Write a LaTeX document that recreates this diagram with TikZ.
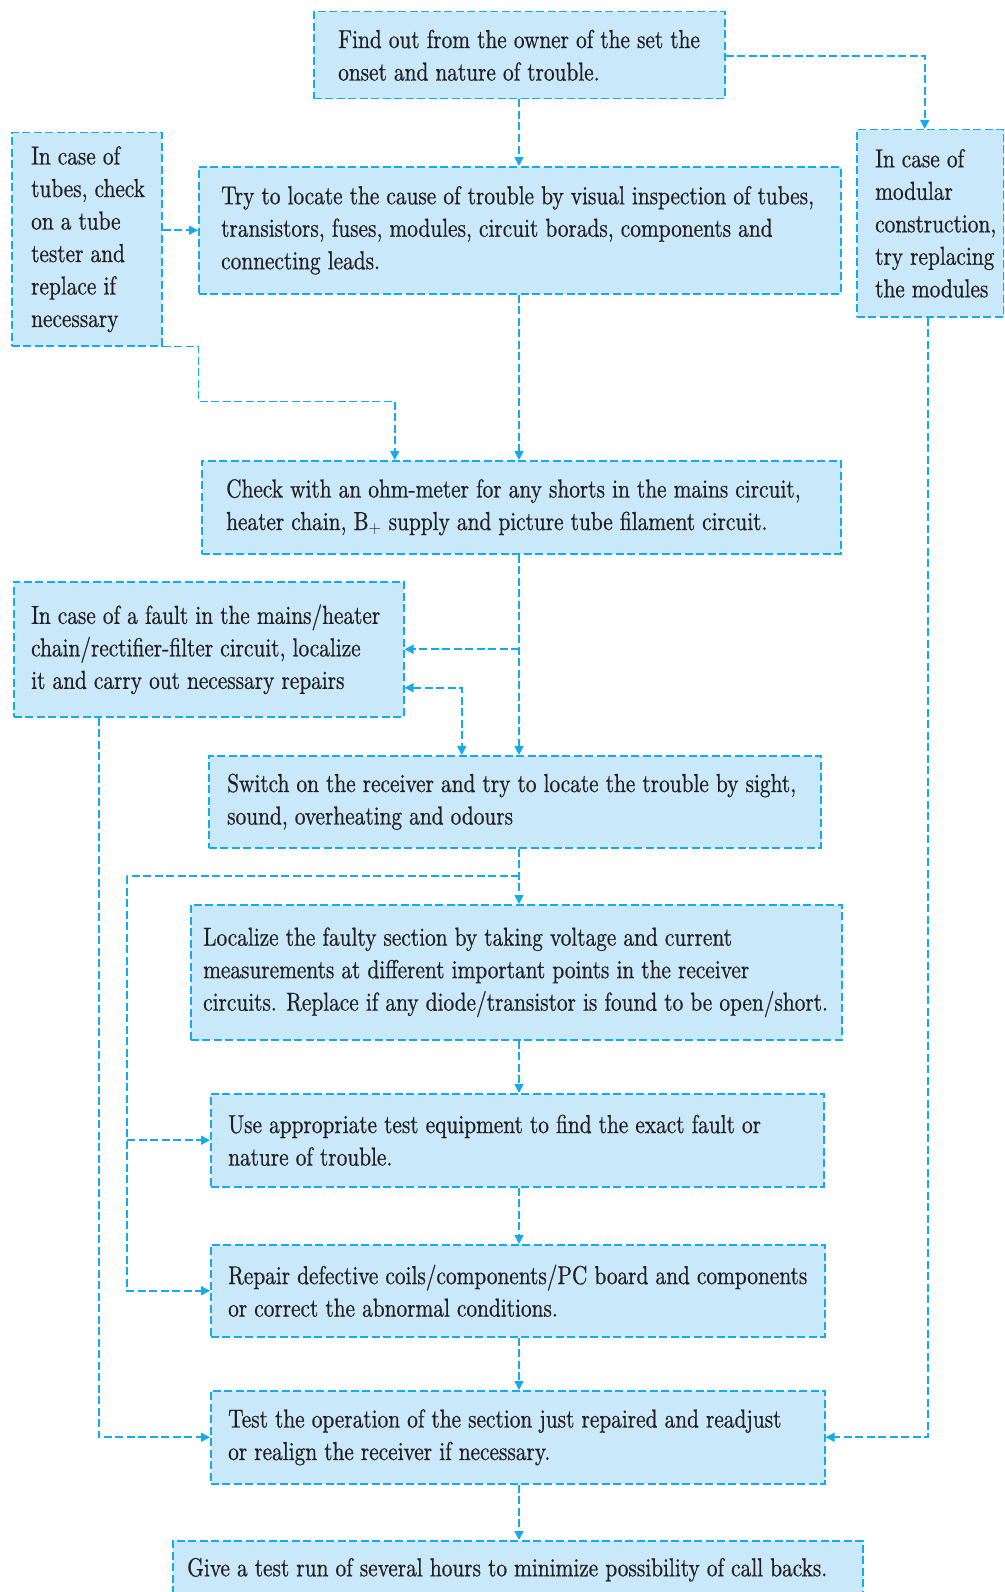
\documentclass[tikz,border=0pt]{standalone}
\usepackage{fontspec}
\setmainfont{lmroman10-regular.otf}[FakeStretch=0.82,FakeBold=0.6]
\usetikzlibrary{arrows.meta,calc}
\definecolor{ln}{RGB}{20,170,235}
\definecolor{fl}{RGB}{201,233,250}
\definecolor{tx}{RGB}{35,31,32}
\tikzset{
  >={Triangle[length=9pt,width=9pt]},
  box/.style={draw=ln, fill=fl, line width=1.5pt, dash pattern=on 8pt off 3.5pt, inner sep=0pt, anchor=north west},
  txt/.style={align=left, inner sep=0pt, anchor=west, text=tx, font=\fontsize{26}{32.5}\selectfont},
  conn/.style={draw=ln, line width=1.6pt, dash pattern=on 8pt off 3.5pt, ->}
}
\begin{document}
\begin{tikzpicture}[x=1pt,y=-1pt]
\clip (0,0) rectangle (1004,1592);
\fill[white] (0,0) rectangle (1004,1592);
% boxes
\node[box, minimum width=411pt, minimum height=87pt] (n1) at (313,11) {};
\node[box, minimum width=150pt, minimum height=213pt] (n2) at (11,132) {};
\node[box, minimum width=642pt, minimum height=127pt] (n3) at (198,166) {};
\node[box, minimum width=147pt, minimum height=187pt] (n4) at (856,129) {};
\node[box, minimum width=639pt, minimum height=93pt] (n5) at (201,460) {};
\node[box, minimum width=390pt, minimum height=135pt] (n6) at (13,581) {};
\node[box, minimum width=612pt, minimum height=92pt] (n7) at (208,755) {};
\node[box, minimum width=651pt, minimum height=135pt] (n8) at (190,904) {};
\node[box, minimum width=613pt, minimum height=93pt] (n9) at (210,1093) {};
\node[box, minimum width=614pt, minimum height=92pt] (n10) at (210,1244) {};
\node[box, minimum width=614pt, minimum height=93pt] (n11) at (210,1390) {};
\node[box, minimum width=690pt, minimum height=58pt] (n12) at (172,1540) {};
% texts
\node[txt] (t1) at ([xshift=25pt]n1.west) {Find out from the owner of the set the\\onset and nature of trouble.};
\node[txt] (t2) at ([xshift=20pt]n2.west) {In case of\\tubes, check\\on a tube\\tester and\\replace if\\necessary};
\node[txt] (t3) at ([xshift=23pt]n3.west) {Try to locate the cause of trouble by visual inspection of tubes,\\transistors, fuses, modules, circuit borads, components and\\connecting leads.};
\node[txt] (t4) at ([xshift=19pt]n4.west) {In case of\\modular\\construction,\\try replacing\\the modules};
\node[txt] (t5) at ([xshift=25pt]n5.west) {Check with an ohm-meter for any shorts in the mains circuit,\\heater chain, B$_+$ supply and picture tube filament circuit.};
\node[txt] (t6) at ([xshift=18pt]n6.west) {In case of a fault in the mains/heater\\chain/rectifier-filter circuit, localize\\it and carry out necessary repairs};
\node[txt] (t7) at ([xshift=19pt]n7.west) {Switch on the receiver and try to locate the trouble by sight,\\sound, overheating and odours};
\node[txt] (t8) at ([xshift=13pt]n8.west) {Localize the faulty section by taking voltage and current\\measurements at different important points in the receiver\\circuits. Replace if any diode/transistor is found to be open/short.};
\node[txt] (t9) at ([xshift=18pt]n9.west) {Use appropriate test equipment to find the exact fault or\\nature of trouble.};
\node[txt] (t10) at ([xshift=18pt]n10.west) {Repair defective coils/components/PC board and components\\or correct the abnormal conditions.};
\node[txt] (t11) at ([xshift=18pt]n11.west) {Test the operation of the section just repaired and readjust\\or realign the receiver if necessary.};
\node[txt] (t12) at ([xshift=15pt]n12.west) {Give a test run of several hours to minimize possibility of call backs.};
% connectors
\coordinate (col) at (519,0);
\coordinate (j2) at (519,876);
\coordinate (lx) at (127,876);
\draw[conn] (col |- n1.south) -- (col |- n3.north);
\draw[conn] ([yshift=-1pt]n1.east) -| ([xshift=-5.5pt]n4.north);
\draw[conn] (n2.east |- n3.west) -- (n3.west);
\draw[conn] (n2.south east) -- ++(36,0) -- ++(0,55) -| ([xshift=-126.5pt]n5.north);
\draw[conn] (col |- n3.south) -- (col |- n5.north);
\draw[conn] (col |- n5.south) -- (col |- n7.north);
\draw[conn] (col |- n6.east) -- (n6.east);
\draw[conn, <->] ([yshift=-38.5pt]n6.east) -| ([xshift=-53pt]n7.north);
\draw[conn] ([xshift=-110pt]n6.south) |- (n11.west);
\draw[conn] (col |- n7.south) -- (col |- n8.north);
\draw[conn, -] (j2) -- (lx);
\draw[conn] (lx) |- (n9.west);
\draw[conn] (lx) |- (n10.west);
\draw[conn] (col |- n8.south) -- (col |- n9.north);
\draw[conn] (col |- n9.south) -- (col |- n10.north);
\draw[conn] (col |- n10.south) -- (col |- n11.north);
\draw[conn] (col |- n11.south) -- (col |- n12.north);
\draw[conn] ([xshift=-2.5pt]n4.south) |- (n11.east);
\end{tikzpicture}
\end{document}
